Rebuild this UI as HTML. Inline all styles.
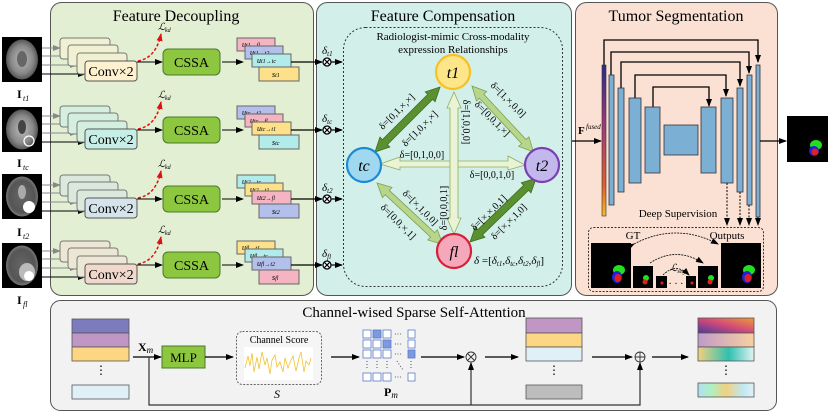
<!DOCTYPE html>
<html><head><meta charset="utf-8"><style>
html,body{margin:0;padding:0;background:#fff;}
svg{display:block;font-family:"Liberation Serif",serif;}
</style></head><body>
<svg width="831" height="414" viewBox="0 0 831 414" xmlns="http://www.w3.org/2000/svg">
<defs>
<marker id="ab" markerWidth="8" markerHeight="8" refX="7" refY="4" orient="auto" markerUnits="userSpaceOnUse"><path d="M0,1 L8,4 L0,7 z" fill="#000"/></marker>
<marker id="ag" markerWidth="8" markerHeight="8" refX="7" refY="4" orient="auto" markerUnits="userSpaceOnUse"><path d="M0,1 L8,4 L0,7 z" fill="#888"/></marker>
<marker id="ar" markerWidth="8" markerHeight="8" refX="7" refY="4" orient="auto" markerUnits="userSpaceOnUse"><path d="M0,1 L8,4 L0,7 z" fill="#e01010"/></marker>
<radialGradient id="brain" cx="50%" cy="50%" r="50%"><stop offset="0" stop-color="#bbb"/><stop offset="0.7" stop-color="#888"/><stop offset="1" stop-color="#555"/></radialGradient>
<radialGradient id="brainD" cx="50%" cy="50%" r="50%"><stop offset="0" stop-color="#666"/><stop offset="0.8" stop-color="#555"/><stop offset="1" stop-color="#777"/></radialGradient>
<linearGradient id="fus" x1="0" y1="0" x2="0" y2="1"><stop offset="0" stop-color="#2a2a8a"/><stop offset="0.4" stop-color="#a03a7a"/><stop offset="0.8" stop-color="#e06030"/><stop offset="1" stop-color="#f0c020"/></linearGradient>
<linearGradient id="g1" x1="0" y1="1" x2="1" y2="0"><stop offset="0" stop-color="#4a3a9a"/><stop offset="0.5" stop-color="#d04a7a"/><stop offset="1" stop-color="#f09a3a"/></linearGradient>
<linearGradient id="g2" x1="0" y1="0" x2="1" y2="0"><stop offset="0" stop-color="#c09ac8"/><stop offset="1" stop-color="#f8d0a0"/></linearGradient>
<linearGradient id="g3" x1="0" y1="0" x2="1" y2="0"><stop offset="0" stop-color="#f2d080"/><stop offset="0.55" stop-color="#30c0b0"/><stop offset="1" stop-color="#e0f4f4"/></linearGradient>
<linearGradient id="g4" x1="0" y1="0" x2="1" y2="0"><stop offset="0" stop-color="#b0e0f0"/><stop offset="0.25" stop-color="#b0f0c0"/><stop offset="0.5" stop-color="#f0d080"/><stop offset="0.8" stop-color="#c0e8f0"/><stop offset="1" stop-color="#e0f0f8"/></linearGradient>
</defs>

<rect x="50.5" y="2.5" width="263" height="293" rx="11" fill="#e3efd3" stroke="#555"/>
<rect x="316.5" y="2.5" width="255" height="293" rx="11" fill="#d3efea" stroke="#555"/>
<rect x="575.5" y="2.5" width="202" height="293" rx="11" fill="#fbe1d4" stroke="#555"/>
<rect x="50.5" y="300.5" width="726" height="110" rx="10" fill="#f2f2f2" stroke="#555"/>

<text x="176" y="21" font-size="16" text-anchor="middle">Feature Decoupling</text>
<text x="443" y="21" font-size="16" text-anchor="middle">Feature Compensation</text>
<text x="676" y="21" font-size="16" text-anchor="middle">Tumor Segmentation</text>
<text x="414" y="317" font-size="15" text-anchor="middle">Channel-wised Sparse Self-Attention</text>

<g>
<rect x="2" y="37" width="40" height="45" fill="#000"/><ellipse cx="22" cy="59.5" rx="16" ry="20" fill="url(#brain)"/><ellipse cx="22" cy="59" rx="5" ry="8" fill="#666"/>
<text x="17" y="98" font-size="12" font-weight="bold">I</text><text x="23" y="101" font-size="8" font-style="italic">t1</text>
<rect x="2" y="107" width="40" height="45" fill="#000"/><ellipse cx="22" cy="129.5" rx="16" ry="20" fill="url(#brain)"/><ellipse cx="22" cy="127" rx="4" ry="7" fill="#444"/><circle cx="29" cy="141" r="5" fill="none" stroke="#fff" stroke-width="1.3"/>
<text x="17" y="167" font-size="12" font-weight="bold">I</text><text x="23" y="170" font-size="8" font-style="italic">tc</text>
<rect x="2" y="174" width="40" height="45" fill="#000"/><ellipse cx="22" cy="196.5" rx="16" ry="20" fill="url(#brainD)"/><ellipse cx="22" cy="192" rx="4" ry="7" fill="#aaa"/><ellipse cx="29" cy="207" rx="6" ry="6" fill="#fff"/>
<text x="17" y="236" font-size="12" font-weight="bold">I</text><text x="23" y="239" font-size="8" font-style="italic">t2</text>
<rect x="2" y="243" width="40" height="45" fill="#000"/><ellipse cx="22" cy="265.5" rx="16" ry="20" fill="url(#brainD)"/><ellipse cx="27" cy="272" rx="8" ry="9" fill="#bbb"/><ellipse cx="29" cy="276" rx="5" ry="5" fill="#fff"/>
<text x="17" y="304" font-size="12" font-weight="bold">I</text><text x="23" y="307" font-size="8" font-style="italic">fl</text>
</g>

<g id="rows" font-size="8" font-style="italic">
<g transform="translate(0,0)">
<line x1="42" y1="48" x2="60" y2="48" stroke="#888" marker-end="url(#ag)"/><line x1="42" y1="56" x2="68" y2="56" stroke="#888" marker-end="url(#ag)"/><line x1="42" y1="65" x2="77" y2="65" stroke="#888" marker-end="url(#ag)"/><line x1="42" y1="74" x2="85" y2="74" stroke="#000" marker-end="url(#ab)"/>
<rect x="60" y="38" width="50" height="21" rx="3" fill="#f0f1d2" stroke="#777"/><rect x="68" y="45" width="50" height="21" rx="3" fill="#f0f1d2" stroke="#777"/><rect x="77" y="53" width="50" height="21" rx="3" fill="#f0f1d2" stroke="#777"/>
<rect x="85" y="61" width="52" height="20" rx="3" fill="#fdf1cf" stroke="#555"/>
<text x="111" y="76" font-size="14" font-style="normal" text-anchor="middle">Conv×2</text>
<path d="M138,61 Q156,58 161,34" fill="none" stroke="#e01010" stroke-width="1.5" stroke-dasharray="3,2" marker-end="url(#ar)"/>
<text x="158" y="30" font-size="10">ℒ</text><text x="165" y="32" font-size="6">kd</text>
<line x1="137" y1="62" x2="162" y2="62" stroke="#000" marker-end="url(#ab)"/>
<rect x="163" y="49" width="57" height="26" rx="5" fill="#8dc63f" stroke="#4a7a2a"/>
<text x="191.5" y="67" font-size="14" font-style="normal" text-anchor="middle">CSSA</text>
<line x1="222" y1="62" x2="243" y2="62" stroke="#000" marker-end="url(#ab)"/>
<rect x="237" y="38" width="38" height="13" fill="#f4b4c2" stroke="#666"/><text x="242" y="47">u<tspan font-size="6">t1→fl</tspan></text>
<rect x="245" y="46" width="38" height="13" fill="#b4c0ec" stroke="#666"/><text x="250" y="55">u<tspan font-size="6">t1→t2</tspan></text>
<rect x="252" y="54" width="39" height="13" fill="#b2ecea" stroke="#666"/><text x="257" y="63">u<tspan font-size="6">t1→tc</tspan></text>
<rect x="259" y="67" width="40" height="14" fill="#fde08a" stroke="#666"/><text x="272" y="77">s<tspan font-size="6">t1</tspan></text>
<line x1="291" y1="62" x2="322" y2="62" stroke="#000" stroke-width="1.3" marker-end="url(#ab)"/>
</g>
<g transform="translate(0,68)">
<line x1="42" y1="48" x2="60" y2="48" stroke="#888" marker-end="url(#ag)"/><line x1="42" y1="56" x2="68" y2="56" stroke="#888" marker-end="url(#ag)"/><line x1="42" y1="65" x2="77" y2="65" stroke="#888" marker-end="url(#ag)"/><line x1="42" y1="74" x2="85" y2="74" stroke="#000" marker-end="url(#ab)"/>
<rect x="60" y="38" width="50" height="21" rx="3" fill="#d4efdd" stroke="#777"/><rect x="68" y="45" width="50" height="21" rx="3" fill="#d4efdd" stroke="#777"/><rect x="77" y="53" width="50" height="21" rx="3" fill="#d4efdd" stroke="#777"/>
<rect x="85" y="61" width="52" height="20" rx="3" fill="#c6eee6" stroke="#555"/>
<text x="111" y="76" font-size="14" font-style="normal" text-anchor="middle">Conv×2</text>
<path d="M138,61 Q156,58 161,34" fill="none" stroke="#e01010" stroke-width="1.5" stroke-dasharray="3,2" marker-end="url(#ar)"/>
<text x="158" y="30" font-size="10">ℒ</text><text x="165" y="32" font-size="6">kd</text>
<line x1="137" y1="62" x2="162" y2="62" stroke="#000" marker-end="url(#ab)"/>
<rect x="163" y="49" width="57" height="26" rx="5" fill="#8dc63f" stroke="#4a7a2a"/>
<text x="191.5" y="67" font-size="14" font-style="normal" text-anchor="middle">CSSA</text>
<line x1="222" y1="62" x2="243" y2="62" stroke="#000" marker-end="url(#ab)"/>
<rect x="237" y="38" width="38" height="13" fill="#b4c0ec" stroke="#666"/><text x="242" y="47">u<tspan font-size="6">tc→t2</tspan></text>
<rect x="245" y="46" width="38" height="13" fill="#f4b4c2" stroke="#666"/><text x="250" y="55">u<tspan font-size="6">tc→fl</tspan></text>
<rect x="252" y="54" width="39" height="13" fill="#fde08a" stroke="#666"/><text x="257" y="63">u<tspan font-size="6">tc→t1</tspan></text>
<rect x="259" y="67" width="40" height="14" fill="#b2ecea" stroke="#666"/><text x="272" y="77">s<tspan font-size="6">tc</tspan></text>
<line x1="291" y1="62" x2="322" y2="62" stroke="#000" stroke-width="1.3" marker-end="url(#ab)"/>
</g>
<g transform="translate(0,137)">
<line x1="42" y1="48" x2="60" y2="48" stroke="#888" marker-end="url(#ag)"/><line x1="42" y1="56" x2="68" y2="56" stroke="#888" marker-end="url(#ag)"/><line x1="42" y1="65" x2="77" y2="65" stroke="#888" marker-end="url(#ag)"/><line x1="42" y1="74" x2="85" y2="74" stroke="#000" marker-end="url(#ab)"/>
<rect x="60" y="38" width="50" height="21" rx="3" fill="#dbe8dc" stroke="#777"/><rect x="68" y="45" width="50" height="21" rx="3" fill="#dbe8dc" stroke="#777"/><rect x="77" y="53" width="50" height="21" rx="3" fill="#dbe8dc" stroke="#777"/>
<rect x="85" y="61" width="52" height="20" rx="3" fill="#d5e3ea" stroke="#555"/>
<text x="111" y="76" font-size="14" font-style="normal" text-anchor="middle">Conv×2</text>
<path d="M138,61 Q156,58 161,34" fill="none" stroke="#e01010" stroke-width="1.5" stroke-dasharray="3,2" marker-end="url(#ar)"/>
<text x="158" y="30" font-size="10">ℒ</text><text x="165" y="32" font-size="6">kd</text>
<line x1="137" y1="62" x2="162" y2="62" stroke="#000" marker-end="url(#ab)"/>
<rect x="163" y="49" width="57" height="26" rx="5" fill="#8dc63f" stroke="#4a7a2a"/>
<text x="191.5" y="67" font-size="14" font-style="normal" text-anchor="middle">CSSA</text>
<line x1="222" y1="62" x2="243" y2="62" stroke="#000" marker-end="url(#ab)"/>
<rect x="237" y="38" width="38" height="13" fill="#b2ecea" stroke="#666"/><text x="242" y="47">u<tspan font-size="6">t2→tc</tspan></text>
<rect x="245" y="46" width="38" height="13" fill="#fde08a" stroke="#666"/><text x="250" y="55">u<tspan font-size="6">t2→t1</tspan></text>
<rect x="252" y="54" width="39" height="13" fill="#f4b4c2" stroke="#666"/><text x="257" y="63">u<tspan font-size="6">t2→fl</tspan></text>
<rect x="259" y="67" width="40" height="14" fill="#b4c0ec" stroke="#666"/><text x="272" y="77">s<tspan font-size="6">t2</tspan></text>
<line x1="291" y1="62" x2="322" y2="62" stroke="#000" stroke-width="1.3" marker-end="url(#ab)"/>
</g>
<g transform="translate(0,203)">
<line x1="42" y1="48" x2="60" y2="48" stroke="#888" marker-end="url(#ag)"/><line x1="42" y1="56" x2="68" y2="56" stroke="#888" marker-end="url(#ag)"/><line x1="42" y1="65" x2="77" y2="65" stroke="#888" marker-end="url(#ag)"/><line x1="42" y1="74" x2="85" y2="74" stroke="#000" marker-end="url(#ab)"/>
<rect x="60" y="38" width="50" height="21" rx="3" fill="#ece6d4" stroke="#777"/><rect x="68" y="45" width="50" height="21" rx="3" fill="#ece6d4" stroke="#777"/><rect x="77" y="53" width="50" height="21" rx="3" fill="#ece6d4" stroke="#777"/>
<rect x="85" y="61" width="52" height="20" rx="3" fill="#f1d8cc" stroke="#555"/>
<text x="111" y="76" font-size="14" font-style="normal" text-anchor="middle">Conv×2</text>
<path d="M138,61 Q156,58 161,34" fill="none" stroke="#e01010" stroke-width="1.5" stroke-dasharray="3,2" marker-end="url(#ar)"/>
<text x="158" y="30" font-size="10">ℒ</text><text x="165" y="32" font-size="6">kd</text>
<line x1="137" y1="62" x2="162" y2="62" stroke="#000" marker-end="url(#ab)"/>
<rect x="163" y="49" width="57" height="26" rx="5" fill="#8dc63f" stroke="#4a7a2a"/>
<text x="191.5" y="67" font-size="14" font-style="normal" text-anchor="middle">CSSA</text>
<line x1="222" y1="62" x2="243" y2="62" stroke="#000" marker-end="url(#ab)"/>
<rect x="237" y="38" width="38" height="13" fill="#fde08a" stroke="#666"/><text x="242" y="47">u<tspan font-size="6">fl→t1</tspan></text>
<rect x="245" y="46" width="38" height="13" fill="#b2ecea" stroke="#666"/><text x="250" y="55">u<tspan font-size="6">fl→tc</tspan></text>
<rect x="252" y="54" width="39" height="13" fill="#b4c0ec" stroke="#666"/><text x="257" y="63">u<tspan font-size="6">fl→t2</tspan></text>
<rect x="259" y="67" width="40" height="14" fill="#f4b4c2" stroke="#666"/><text x="272" y="77">s<tspan font-size="6">fl</tspan></text>
<line x1="291" y1="62" x2="322" y2="62" stroke="#000" stroke-width="1.3" marker-end="url(#ab)"/>
</g>
</g>

<g font-size="11" font-style="italic">
<text x="322" y="54">δ<tspan font-size="7" dy="2">t1</tspan></text>
<text x="322" y="122">δ<tspan font-size="7" dy="2">tc</tspan></text>
<text x="322" y="191">δ<tspan font-size="7" dy="2">t2</tspan></text>
<text x="322" y="257">δ<tspan font-size="7" dy="2">fl</tspan></text>
</g>
<g stroke="#000" fill="#fff" stroke-width="1.2">
<circle cx="327" cy="62" r="4"/><path d="M324.2,59.2 L329.8,64.8 M329.8,59.2 L324.2,64.8"/>
<circle cx="327" cy="130" r="4"/><path d="M324.2,127.2 L329.8,132.8 M329.8,127.2 L324.2,132.8"/>
<circle cx="327" cy="199" r="4"/><path d="M324.2,196.2 L329.8,201.8 M329.8,196.2 L324.2,201.8"/>
<circle cx="327" cy="265" r="4"/><path d="M324.2,262.2 L329.8,267.8 M329.8,262.2 L324.2,267.8"/>
</g>
<g stroke="#000" stroke-width="1.2">
<line x1="331" y1="62" x2="342" y2="62" marker-end="url(#ab)"/>
<line x1="331" y1="130" x2="342" y2="130" marker-end="url(#ab)"/>
<line x1="331" y1="199" x2="342" y2="199" marker-end="url(#ab)"/>
<line x1="331" y1="265" x2="342" y2="265" marker-end="url(#ab)"/>
</g>

<rect x="343.5" y="27.5" width="219" height="259" rx="22" fill="none" stroke="#333" stroke-dasharray="2,2"/>
<text x="453" y="40" font-size="11" text-anchor="middle">Radiologist-mimic Cross-modality</text>
<text x="453" y="53" font-size="11" text-anchor="middle">expression Relationships</text>

<g>
<polygon points="380,164 400,157 400,161 508,161 508,156 525,165 508,170 508,167 400,167 400,170" fill="#eaf3d6" stroke="#8cb060" stroke-width="0.8"/>
<polygon points="454,92 461,108 458,108 458,218 461,218 454,234 447,218 450,218 450,108 447,108" fill="#eaf3d6" stroke="#8cb060" stroke-width="0.8"/>
<g transform="translate(472,86) rotate(47)"><polygon points="0,0 14,-7 14,-3 76,-3 76,-7 90,0 76,7 76,3 14,3 14,7" fill="#b7d68b" stroke="#7ea050" stroke-width="0.8"/></g>
<g transform="translate(377,183) rotate(43)"><polygon points="0,0 14,-7 14,-3 76,-3 76,-7 90,0 76,7 76,3 14,3 14,7" fill="#b7d68b" stroke="#7ea050" stroke-width="0.8"/></g>
<g transform="translate(375,152) rotate(-45)"><polygon points="0,0 14,-7 14,-3.5 78,-3.5 78,-7 92,0 78,7 78,3.5 14,3.5 14,7" fill="#5a9030" stroke="#3e6e1e" stroke-width="0.8"/></g>
<g transform="translate(470,242) rotate(-44)"><polygon points="0,0 14,-7 14,-3.5 78,-3.5 78,-7 92,0 78,7 78,3.5 14,3.5 14,7" fill="#5a9030" stroke="#3e6e1e" stroke-width="0.8"/></g>
</g>

<g font-size="10" text-anchor="middle">
<text transform="translate(399,114) rotate(-45)">δ=[0,1,×,×]</text>
<text transform="translate(422,131) rotate(-45)">δ=[1,0,×,×]</text>
<text transform="translate(506,102) rotate(45)">δ=[1,×,0,0]</text>
<text transform="translate(490,121) rotate(45)">δ=[0,0,1,×]</text>
<text transform="translate(463,122) rotate(90)">δ=[1,0,0,0]</text>
<text transform="translate(447,208) rotate(-90)">δ=[0,0,0,1]</text>
<text x="422" y="158">δ=[0,1,0,0]</text>
<text x="492" y="178">δ=[0,0,1,0]</text>
<text transform="translate(418,210) rotate(45)">δ=[×,1,0,0]</text>
<text transform="translate(396,224) rotate(45)">δ=[0,0,×,1]</text>
<text transform="translate(491,215) rotate(-45)">δ=[×,×,0,1]</text>
<text transform="translate(511,224) rotate(-45)">δ=[×,×,1,0]</text>
</g>
<text x="474" y="264" font-size="11"><tspan font-style="italic">δ</tspan> =[<tspan font-style="italic">δ</tspan><tspan font-size="7" dy="2" font-style="italic">t1</tspan><tspan dy="-2">,</tspan><tspan font-style="italic">δ</tspan><tspan font-size="7" dy="2" font-style="italic">tc</tspan><tspan dy="-2">,</tspan><tspan font-style="italic">δ</tspan><tspan font-size="7" dy="2" font-style="italic">t2</tspan><tspan dy="-2">,</tspan><tspan font-style="italic">δ</tspan><tspan font-size="7" dy="2" font-style="italic">fl</tspan><tspan dy="-2">]</tspan></text>

<g stroke-width="2.2" font-size="16" font-style="italic" text-anchor="middle">
<circle cx="453" cy="72" r="17" fill="#fde58a" stroke="#f8c020"/><text x="453" y="78">t1</text>
<circle cx="364" cy="165" r="17" fill="#9fd8ef" stroke="#1a8ad6"/><text x="364" y="171">tc</text>
<circle cx="542" cy="165" r="17" fill="#c3b8ee" stroke="#7a40b0"/><text x="542" y="171">t2</text>
<circle cx="454" cy="251" r="17" fill="#f4a8ba" stroke="#d6203a"/><text x="454" y="257">fl</text>
</g>

<g fill="none" stroke="#000" stroke-width="1.3">
<path d="M604,65 V40 H758 V62" marker-end="url(#ab)"/>
<path d="M611,75 V52 H749 V73" marker-end="url(#ab)"/>
<path d="M621,88 V62 H740 V86" marker-end="url(#ab)"/>
<path d="M635,98 V75 H726 V96" marker-end="url(#ab)"/>
<path d="M653,107 V87 H709 V106" marker-end="url(#ab)"/>
</g>
<rect x="602" y="65" width="4" height="151" fill="url(#fus)" stroke="#333" stroke-width="0.6"/>
<g fill="#7bafd4" stroke="#333" stroke-width="0.8">
<rect x="609" y="75" width="5" height="130"/>
<rect x="618" y="88" width="6" height="104"/>
<rect x="629" y="98" width="12" height="85"/>
<rect x="645" y="107" width="15" height="66"/>
<rect x="664" y="125" width="34" height="30"/>
<rect x="701" y="107" width="15" height="66"/>
<rect x="721" y="98" width="12" height="85"/>
<rect x="737" y="88" width="6" height="104"/>
<rect x="747" y="75" width="5" height="130"/>
<rect x="756" y="65" width="4" height="152"/>
</g>
<g stroke="#000" stroke-width="1" stroke-dasharray="2,1.5">
<line x1="727" y1="183" x2="727" y2="225" marker-end="url(#ab)"/>
<line x1="740" y1="192" x2="740" y2="225" marker-end="url(#ab)"/>
<line x1="749" y1="205" x2="749" y2="225" marker-end="url(#ab)"/>
<line x1="758" y1="217" x2="758" y2="225" marker-end="url(#ab)"/>
</g>
<line x1="572" y1="141" x2="601" y2="141" stroke="#000" stroke-width="1.2" marker-end="url(#ab)"/>
<text x="578" y="134" font-size="11" font-weight="bold">F</text><text x="586" y="129" font-size="7" font-style="italic">fused</text>
<line x1="760" y1="141" x2="786" y2="141" stroke="#000" stroke-width="1.2" marker-end="url(#ab)"/>
<rect x="787" y="116" width="41" height="46" fill="#000"/>
<ellipse cx="816" cy="145" rx="6" ry="5" fill="#20e020"/><ellipse cx="814" cy="151" rx="5" ry="5" fill="#2020e0"/><ellipse cx="815" cy="152" rx="3.5" ry="3.5" fill="#e02020"/>

<text x="678" y="217" font-size="11" text-anchor="middle">Deep Supervision</text>
<rect x="588.5" y="227.5" width="175" height="64" rx="5" fill="none" stroke="#333" stroke-dasharray="2,1.5"/>
<text x="633" y="239" font-size="11" text-anchor="middle">GT</text>
<text x="727" y="239" font-size="11" text-anchor="middle">Outputs</text>
<g fill="#000">
<rect x="591" y="243" width="40" height="45"/><rect x="633" y="266" width="20" height="22"/><rect x="656" y="276" width="11" height="12"/>
<rect x="686" y="276" width="10" height="12"/><rect x="698" y="266" width="20" height="22"/><rect x="721" y="243" width="40" height="45"/>
</g>
<g>
<ellipse cx="619" cy="270" rx="6" ry="5" fill="#20e020"/><ellipse cx="617" cy="277" rx="5" ry="6" fill="#2020e0"/><ellipse cx="618" cy="278" rx="3.5" ry="4" fill="#e02020"/>
<ellipse cx="749" cy="270" rx="6" ry="5" fill="#20e020"/><ellipse cx="747" cy="277" rx="5" ry="6" fill="#2020e0"/><ellipse cx="748" cy="278" rx="3.5" ry="4" fill="#e02020"/>
<ellipse cx="646" cy="278" rx="3" ry="3" fill="#20e020"/><circle cx="645" cy="282" r="2.5" fill="#e02020"/>
<ellipse cx="711" cy="278" rx="3" ry="3" fill="#20e020"/><circle cx="710" cy="282" r="2.5" fill="#e02020"/>
<circle cx="662" cy="283" r="1.5" fill="#e02020"/><circle cx="692" cy="283" r="1.5" fill="#e02020"/>
</g>
<g fill="none" stroke="#000" stroke-width="0.8" stroke-dasharray="2,1">
<path d="M634,244 Q676,222 718,244" marker-start="url(#ab)" marker-end="url(#ab)"/>
<path d="M650,263 Q676,246 703,263" marker-end="url(#ab)"/>
<path d="M663,275 Q676,262 689,275" marker-end="url(#ab)"/>
</g>
<text x="670" y="271" font-size="10" font-style="italic">ℒ<tspan font-size="6" dy="2">seg</tspan></text>
<text x="676" y="287" font-size="10" text-anchor="middle">· · ·</text>

<g stroke="#555" stroke-width="0.8">
<rect x="72" y="319" width="57" height="14" fill="#7b7bbd"/>
<rect x="72" y="333" width="57" height="14" fill="#bf96c4"/>
<rect x="72" y="347" width="57" height="14" fill="#fdd683"/>
<rect x="72" y="385" width="57" height="14" fill="#dff1f7"/>
<rect x="526" y="318" width="56" height="15" fill="#bf96c4"/>
<rect x="526" y="333" width="56" height="14" fill="#fdd683"/>
<rect x="526" y="347" width="56" height="14" fill="#dff1f7"/>
<rect x="526" y="385" width="56" height="14" fill="#bdbdbd"/>
<rect x="698" y="318" width="56" height="15" fill="url(#g1)"/>
<rect x="698" y="333" width="56" height="14" fill="url(#g2)"/>
<rect x="698" y="347" width="56" height="14" fill="url(#g3)"/>
<rect x="698" y="383" width="56" height="14" fill="url(#g4)"/>
</g>
<g font-size="12" text-anchor="middle"><text x="101" y="374">⋮</text><text x="554" y="374">⋮</text><text x="726" y="374">⋮</text></g>
<text x="138" y="351" font-size="12" font-weight="bold">X<tspan font-size="9" font-weight="normal" font-style="italic" dy="2">m</tspan></text>
<line x1="133" y1="357" x2="161" y2="357" stroke="#000" stroke-width="1.2" marker-end="url(#ab)"/>
<rect x="162" y="346" width="43" height="22" fill="#8dc63f" stroke="#4a7a2a"/>
<text x="183.5" y="362" font-size="13" text-anchor="middle">MLP</text>
<line x1="205" y1="357" x2="233" y2="357" stroke="#000" stroke-width="1.2" marker-end="url(#ab)"/>
<rect x="236.5" y="331.5" width="85" height="53" rx="6" fill="#f5f5f5" stroke="#666" stroke-dasharray="2,1.5"/>
<text x="279" y="343" font-size="10" text-anchor="middle">Channel Score</text>
<rect x="244" y="347" width="69" height="33" fill="#fff"/>
<polyline points="245,368 248,356 250,366 252,353 254,372 257,357 259,369 262,352 265,365 267,358 270,374 272,360 275,355 277,367 280,362 283,372 285,358 288,368 291,360 293,356 296,371 299,358 301,352 304,372 306,361 309,365 311,358" fill="none" stroke="#f2c230" stroke-width="0.8"/>
<text x="277" y="398" font-size="12" font-style="italic" text-anchor="middle">S</text>
<line x1="331" y1="357" x2="359" y2="357" stroke="#000" stroke-width="1.2" marker-end="url(#ab)"/>
<g stroke="#5a7ac8" stroke-width="0.8" fill="#fff">
<rect x="363" y="330" width="8" height="8"/><rect x="373" y="330" width="8" height="8" fill="#7d9ae0"/><rect x="383" y="330" width="8" height="8"/><rect x="408" y="330" width="7" height="8"/>
<rect x="363" y="340" width="8" height="8"/><rect x="373" y="340" width="8" height="8"/><rect x="383" y="340" width="8" height="8" fill="#7d9ae0"/><rect x="408" y="340" width="7" height="8"/>
<rect x="363" y="350" width="8" height="8"/><rect x="373" y="350" width="8" height="8"/><rect x="383" y="350" width="8" height="8"/><rect x="408" y="350" width="7" height="8" fill="#7d9ae0"/>
<rect x="363" y="373" width="8" height="8"/><rect x="373" y="373" width="8" height="8"/><rect x="383" y="373" width="8" height="8"/><rect x="408" y="373" width="7" height="8"/>
</g>
<g font-size="8" fill="#333"><text x="394" y="337">···</text><text x="394" y="347">···</text><text x="394" y="357">···</text><text x="394" y="380">···</text></g>
<g stroke="#555" stroke-dasharray="1,2"><line x1="367" y1="361" x2="367" y2="370"/><line x1="377" y1="361" x2="377" y2="370"/><line x1="387" y1="361" x2="387" y2="370"/><line x1="397" y1="361" x2="403" y2="370"/><line x1="411" y1="361" x2="411" y2="370"/></g>
<text x="384" y="396" font-size="12" font-weight="bold">P<tspan font-size="9" font-weight="normal" font-style="italic" dy="2">m</tspan></text>
<line x1="421" y1="357" x2="464" y2="357" stroke="#000" stroke-width="1.2" marker-end="url(#ab)"/>
<g stroke="#333" fill="none" stroke-width="0.9">
<circle cx="471" cy="357" r="5"/><path d="M467.5,353.5 L474.5,360.5 M474.5,353.5 L467.5,360.5"/>
<circle cx="640" cy="357" r="5"/><path d="M640,352 V362 M635,357 H645"/>
</g>
<line x1="485" y1="357" x2="518" y2="357" stroke="#000" stroke-width="1.2" marker-end="url(#ab)"/>
<line x1="592" y1="357" x2="632" y2="357" stroke="#000" stroke-width="1.2" marker-end="url(#ab)"/>
<line x1="652" y1="357" x2="688" y2="357" stroke="#000" stroke-width="1.2" marker-end="url(#ab)"/>
<path d="M149,357 V405 H640 V363" fill="none" stroke="#333" stroke-width="1.2" marker-end="url(#ab)"/>
<line x1="471" y1="405" x2="471" y2="363" stroke="#333" stroke-width="1.2" marker-end="url(#ab)"/>
</svg>
</body></html>
